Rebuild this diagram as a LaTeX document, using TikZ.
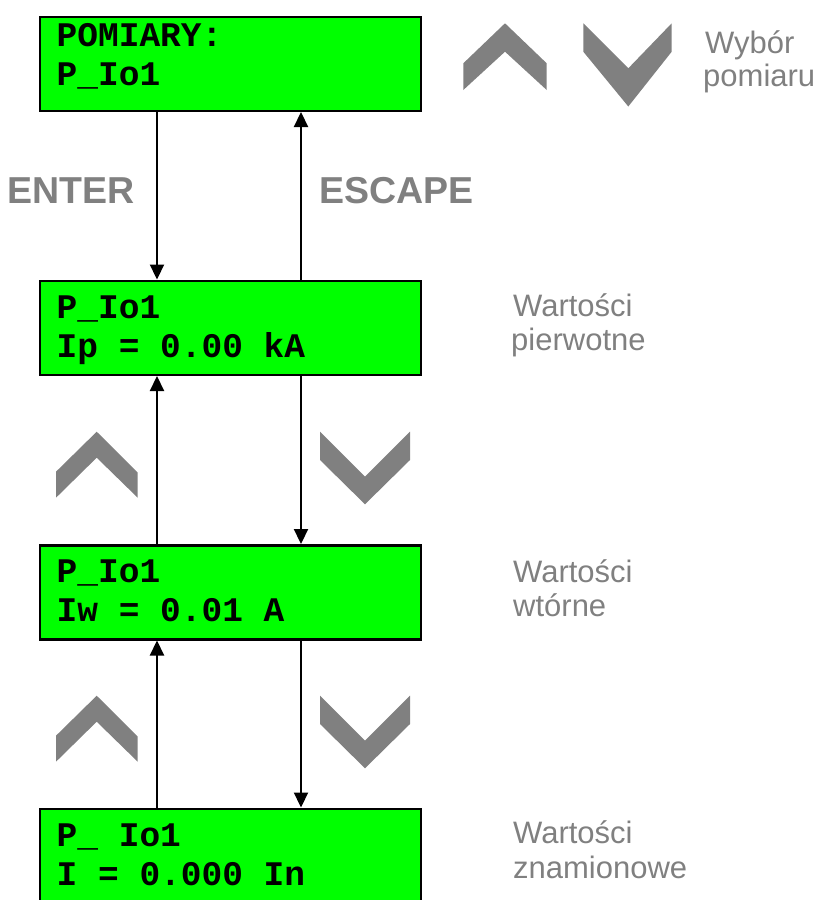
\documentclass[tikz,border=0pt]{standalone}
\usepackage{fontspec}
\newfontfamily\labfont{Liberation Sans}
\newfontfamily\lcdfont{Liberation Mono}
\usetikzlibrary{arrows.meta}
\definecolor{lcd}{RGB}{0,255,0}
\definecolor{gr}{RGB}{128,128,128}
\begin{document}
\begin{tikzpicture}[x=1pt,y=-1pt,
  lcdbox/.style={draw=black, line width=2.5pt, fill=lcd, minimum width=381pt, minimum height=94pt, anchor=north west, inner sep=0pt},
  lcdtext/.style={anchor=base west, inner sep=0pt, font=\lcdfont\bfseries\fontsize{34.5}{38}\selectfont},
  lab/.style={anchor=base west, inner sep=0pt, text=gr, font=\labfont\fontsize{31}{34}\selectfont},
  keylab/.style={anchor=base west, inner sep=0pt, text=gr, font=\labfont\bfseries\fontsize{37.5}{40}\selectfont},
  conn/.style={line width=2.2pt, -{Triangle[length=15pt,width=14pt]}},
  chev/.style={fill=gr}]
\useasboundingbox (0,0) rectangle (822,900);

% boxes
\node[lcdbox] (b1) at (38.5,15.5) {};
\node[lcdbox] (b2) at (38.5,279.5) {};
\node[lcdbox] (b3) at (38.5,544) {};
\node[lcdbox] (b4) at (38.5,807.5) {};

% box texts
\node[lcdtext] (t1a) at (56.5,46.7) {POMIARY:};
\node[lcdtext] (t1b) at (56.5,85.2) {P\_Io1};
\node[lcdtext] (t2a) at (56.5,318.5) {P\_Io1};
\node[lcdtext] (t2b) at (56.5,357) {Ip = 0.00 kA};
\node[lcdtext] (t3a) at (56.5,582.7) {P\_Io1};
\node[lcdtext] (t3b) at (56.5,621.2) {Iw = 0.01 A};
\node[lcdtext] (t4a) at (56.5,846.7) {P\_ Io1};
\node[lcdtext] (t4b) at (56.5,885.2) {I = 0.000 In};

% connector columns
\coordinate (xL) at (157,0);
\coordinate (xR) at (301,0);

\draw[conn] (b1.south -| xL) -- (b2.north -| xL);
\draw[conn] (b2.north -| xR) -- (b1.south -| xR);
\draw[conn] (b3.north -| xL) -- (b2.south -| xL);
\draw[conn] (b2.south -| xR) -- (b3.north -| xR);
\draw[conn] (b4.north -| xL) -- (b3.south -| xL);
\draw[conn] (b3.south -| xR) -- (b4.north -| xR);

% key labels
\node[keylab] (enter) at (7,203) {ENTER};
\node[keylab] (escape) at (319,203) {ESCAPE};

% side labels
\node[lab] (l1a) at (705,53.3) {Wybór};
\node[lab] (l1b) at (703,86) {pomiaru};
\node[lab] (l2a) at (513,316.7) {Wartości};
\node[lab] (l2b) at (511,350.5) {pierwotne};
\node[lab] (l3a) at (513,582.3) {Wartości};
\node[lab] (l3b) at (513,616.7) {wtórne};
\node[lab] (l4a) at (513,843.3) {Wartości};
\node[lab] (l4b) at (513,878.3) {znamionowe};

% chevrons (top)
\fill[chev] (463.3,63.3) -- (505,23.3) -- (546.7,63.3) -- (546.7,90) -- (505,51.7) -- (463.3,90) -- cycle;
\fill[chev] (583.3,23.3) -- (628.3,68.3) -- (671.7,23.3) -- (671.7,51.7) -- (628.3,106.5) -- (583.3,51.7) -- cycle;
% chevrons (between boxes)
\foreach \dy in {0,264}{
  \begin{scope}[yshift=-\dy pt]
    \fill[chev] (56,471.7) -- (96.7,431.7) -- (137.7,472.5) -- (137.7,497.7) -- (96.7,457.7) -- (56,497.7) -- cycle;
    \fill[chev] (320,431.7) -- (365,476.7) -- (410,431.7) -- (410,460) -- (365,504.3) -- (320,460) -- cycle;
  \end{scope}
}
\end{tikzpicture}
\end{document}
